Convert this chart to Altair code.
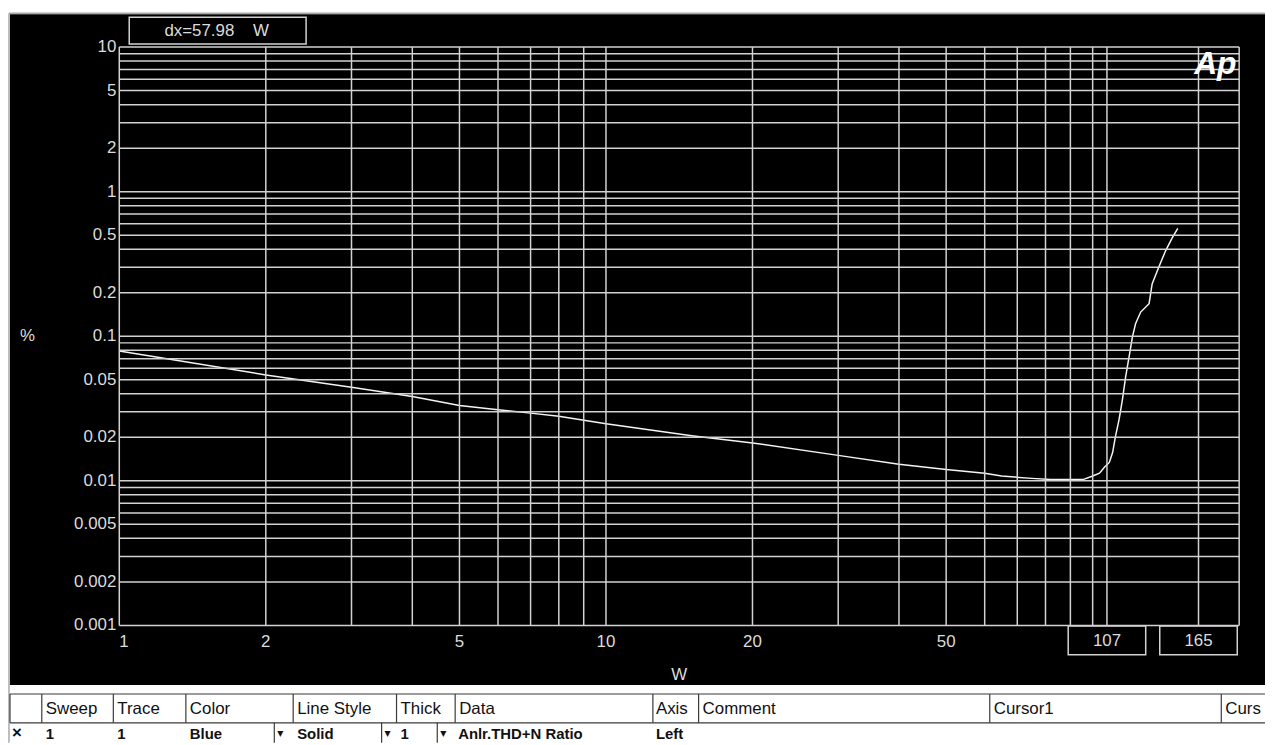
import altair as alt
import pandas as pd

# ---------------- data ----------------
power_w = [1, 2, 3, 4, 5, 6, 7, 8, 10, 15, 20, 30, 40, 50, 60, 65, 75, 82, 95.5,
           100, 103.3, 105.7, 108.2, 109.9, 111.4, 113.3, 115.1, 116.9, 118.8,
           120.7, 122.5, 125.5, 130.6, 132.5, 136.7, 141.2, 145.6, 149.6]
thd_pct = [0.0792, 0.054, 0.0444, 0.0383, 0.0332, 0.031, 0.0294, 0.028, 0.0248,
           0.0205, 0.0183, 0.015, 0.013, 0.012, 0.0113, 0.0108, 0.0104, 0.0102,
           0.0102, 0.0108, 0.0113, 0.0124, 0.0134, 0.0157, 0.0203, 0.0265,
           0.0363, 0.0525, 0.072, 0.099, 0.122, 0.147, 0.168, 0.23, 0.30, 0.39,
           0.477, 0.558]

grid_x = [1, 2, 3, 4, 5, 6, 7, 8, 9, 10, 20, 30, 40, 50, 60, 70, 80, 90, 100, 200]
grid_y = [0.001, 0.002, 0.003, 0.004, 0.005, 0.006, 0.007, 0.008, 0.009,
          0.01, 0.02, 0.03, 0.04, 0.05, 0.06, 0.07, 0.08, 0.09,
          0.1, 0.2, 0.3, 0.4, 0.5, 0.6, 0.7, 0.8, 0.9,
          1, 2, 3, 4, 5, 6, 7, 8, 9, 10]
x_tick_labels = [1, 2, 5, 10, 20, 50]
y_tick_labels = [0.001, 0.002, 0.005, 0.01, 0.02, 0.05, 0.1, 0.2, 0.5, 1, 2, 5, 10]

cursor_w = [107, 165]
cursor_labels = ["107", "165"]
dx_text = "dx=57.98\u00a0\u00a0\u00a0\u00a0W"
x_title = "W"
y_title = "%"
logo_text = "Ap"

table_headers = ["Sweep", "Trace", "Color", "Line Style", "Thick", "Data",
                 "Axis", "Comment", "Cursor1", "Curs"]
table_row = ["1", "1", "Blue", "Solid", "1", "Anlr.THD+N Ratio", "Left"]
row_mark = "×"
dropdown = "▼"

# ---------------- layout (page pixels) ----------------
OX, OY = 120, 45          # plot origin on page
W, H = 1127, 582
header_x = [46, 118, 191, 299, 403, 462, 660, 707, 1000, 1233]
row_x = [46, 118, 191, 299, 403, 461, 660]
header_div_x = [10, 42, 114, 187, 295, 399, 458, 657, 703, 996, 1229]
row_div_x = [276, 384, 440]
arrow_x = [282, 390, 446]


def rx(p):
    return p - OX


def ry(p):
    return p - OY


GRID = "#d2d2d2"
LABEL = "#dcdcdc"
FONT = "Liberation Sans"
TBL = "#3a3a3a"
INK = "#111111"

xs = alt.Scale(type="log", domain=[1, 200], nice=False)
ys = alt.Scale(type="log", domain=[0.001, 10], nice=False)

one = pd.DataFrame({"k": [0]})


def box(x1, x2, y1, y2, **kw):
    return alt.Chart(one).mark_rect(**kw).encode(
        x=alt.value(rx(x1)), x2=alt.value(rx(x2)),
        y=alt.value(ry(y1)), y2=alt.value(ry(y2)))


def vline(x, y1, y2, color, sw):
    return alt.Chart(one).mark_rule(color=color, strokeWidth=sw).encode(
        x=alt.value(rx(x)), y=alt.value(ry(y1)), y2=alt.value(ry(y2)))


def hline(y, x1, x2, color, sw):
    return alt.Chart(one).mark_rule(color=color, strokeWidth=sw).encode(
        x=alt.value(rx(x1)), x2=alt.value(rx(x2)), y=alt.value(ry(y)))


def label(text, x, y, **kw):
    return alt.Chart(pd.DataFrame({"t": [text]})).mark_text(**kw).encode(
        x=alt.value(rx(x)), y=alt.value(ry(y)), text="t:N")


# main plot layers
gx = alt.Chart(pd.DataFrame({"w": grid_x})).mark_rule(
    color=GRID, strokeWidth=1.5).encode(x=alt.X("w:Q", scale=xs, axis=None))
gy = alt.Chart(pd.DataFrame({"v": grid_y})).mark_rule(
    color=GRID, strokeWidth=1.5).encode(y=alt.Y("v:Q", scale=ys, axis=None))

cur_df = pd.DataFrame({"w": cursor_w, "label": cursor_labels})
cur_lines = alt.Chart(cur_df).mark_rule(color=GRID, strokeWidth=1.5).encode(
    x=alt.X("w:Q", scale=xs, axis=None))

curve = alt.Chart(pd.DataFrame({"w": power_w, "thd": thd_pct})).mark_line(
    color="#f4f4f4", strokeWidth=1.5).encode(
    x=alt.X("w:Q", scale=xs, axis=None),
    y=alt.Y("thd:Q", scale=ys, axis=None))

# tick labels placed through the same log scales
xl_df = pd.DataFrame({"w": x_tick_labels, "t": [f"{v:g}" for v in x_tick_labels]})
x_lab_first = alt.Chart(xl_df.iloc[:1]).mark_text(
    font=FONT, fontSize=17, color=LABEL, align="left", baseline="top").encode(
    x=alt.X("w:Q", scale=xs, axis=None), y=alt.value(H + 9), text="t:N")
x_lab_rest = alt.Chart(xl_df.iloc[1:]).mark_text(
    font=FONT, fontSize=17, color=LABEL, align="center", baseline="top").encode(
    x=alt.X("w:Q", scale=xs, axis=None), y=alt.value(H + 9), text="t:N")
yl_df = pd.DataFrame({"v": y_tick_labels, "t": [f"{v:g}" for v in y_tick_labels]})
y_lab = alt.Chart(yl_df).mark_text(
    font=FONT, fontSize=17, color=LABEL, align="right", baseline="middle").encode(
    x=alt.value(-3), y=alt.Y("v:Q", scale=ys, axis=None), text="t:N")

box_path = "M-1,-0.372L1,-0.372L1,0.372L-1,0.372Z"
cur_boxes = alt.Chart(cur_df).mark_point(
    shape=box_path, size=6084, filled=False, stroke=GRID, strokeWidth=1.5,
    opacity=1).encode(x=alt.X("w:Q", scale=xs, axis=None), y=alt.value(ry(642)))
cur_text = alt.Chart(cur_df).mark_text(
    font=FONT, fontSize=17, color=LABEL, align="center", baseline="middle").encode(
    x=alt.X("w:Q", scale=xs, axis=None), y=alt.value(ry(643)), text="label:N")

layers = [curve, gx, gy, cur_lines, cur_boxes, cur_text,
          x_lab_first, x_lab_rest, y_lab]

# axis titles
layers += [
    label(x_title, OX + W / 2, 677, font=FONT, fontSize=17, color=LABEL,
          align="center", baseline="middle"),
    label(y_title, 27.5, 336, font=FONT, fontSize=17, color=LABEL,
          align="center", baseline="middle"),
]

# white surroundings of the black panel (chart background is black)
layers += [
    box(0, 1280, 0, 12, fill="white"),
    box(0, 10, 0, 760, fill="white"),
    box(0, 1280, 687, 760, fill="white"),
    vline(9, 11, 745, "#a8a8a8", 1.5),
    hline(11, 9, 1273, "#a8a8a8", 1.5),
]

# logo and dx read-out
layers += [
    label(logo_text, 1223, 72, font=FONT, fontSize=32, fontWeight="bold",
          fontStyle="italic", color="white", align="center", baseline="alphabetic"),
    box(130, 308, 15, 42, fill="black", stroke=GRID, strokeWidth=1.5),
    label(dx_text, 218, 29, font=FONT, fontSize=17, color=LABEL, align="center",
          baseline="middle"),
]

# settings table
layers += [hline(696, 10, 1273, TBL, 1.2), hline(725, 10, 1273, TBL, 1.2)]
layers += [vline(p, 696, 725, TBL, 1.2) for p in header_div_x]
layers += [vline(p, 725, 745, TBL, 1.2) for p in row_div_x]
layers += [label(t, p, 711, font=FONT, fontSize=17, color=INK, align="left",
                 baseline="middle") for t, p in zip(table_headers, header_x)]
layers += [label(t, p, 736, font=FONT, fontSize=15, fontWeight="bold", color=INK,
                 align="left", baseline="middle") for t, p in zip(table_row, row_x)]
layers += [label(row_mark, 17, 735, font=FONT, fontSize=17, fontWeight="bold",
                 color=INK, align="center", baseline="middle")]
layers += [label(dropdown, p, 736, font="DejaVu Sans", fontSize=8, color=INK,
                 align="center", baseline="middle") for p in arrow_x]

chart = alt.layer(*layers).properties(
    width=W, height=H,
    padding={"left": 112, "top": 37, "right": 26, "bottom": 118},
    autosize=alt.AutoSizeParams(type="none"),
    background="black",
).configure_view(stroke=None)

chart.save("out.html", embed_options={"renderer": "svg", "actions": False})
